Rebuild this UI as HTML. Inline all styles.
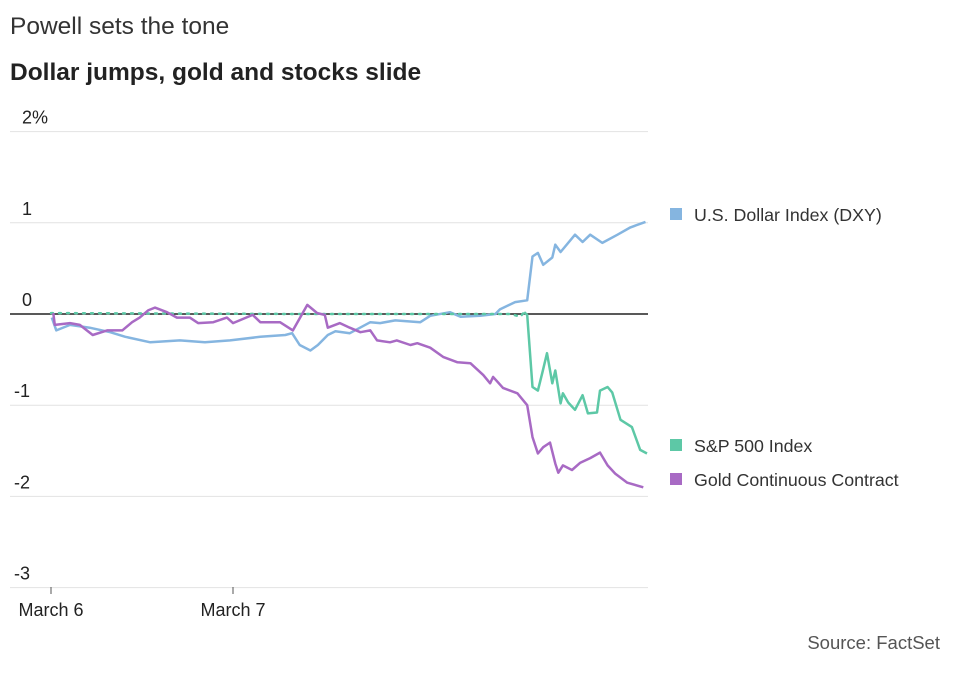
<!DOCTYPE html>
<html><head><meta charset="utf-8"><style>
body{margin:0;background:#fff;font-family:"Liberation Sans",sans-serif;}
svg{display:block}
</style></head><body>
<svg width="955" height="676">
<text x="10" y="34" font-size="24.5" fill="#333">Powell sets the tone</text>
<text x="10" y="80" font-size="24.5" font-weight="bold" fill="#222">Dollar jumps, gold and stocks slide</text>
<g id="grid"></g>
<g id="series"></g>
<g id="legend"></g>
<text x="940" y="649" font-size="18.5" fill="#555" text-anchor="end">Source: FactSet</text>
</svg>
<script>
const yTicks=[2,1,0,-1,-2,-3];
const yTickLabels=["2%","1","0","-1","-2","-3"];
const xTicks=[0,24];
const xTickLabels=["March 6","March 7"];
const dxyT=[0.1,0.7,2.5,5.1,7.8,9.8,13.1,17.0,20.3,23.6,27.6,30.9,31.8,32.8,34.2,35.2,36.5,37.5,39.4,42.1,43.4,45.4,48.7,50.0,52.6,54.0,56.6,58.6,59.2,61.2,62.8,63.5,64.2,64.9,66.1,66.5,67.2,69.1,70.1,71.1,72.7,74.7,76.4,78.4];
const dxyV=[-0.04,-0.18,-0.12,-0.15,-0.20,-0.25,-0.31,-0.29,-0.31,-0.29,-0.25,-0.23,-0.21,-0.34,-0.40,-0.34,-0.23,-0.19,-0.21,-0.09,-0.10,-0.07,-0.09,-0.02,0.02,-0.03,-0.02,0,0.05,0.13,0.15,0.63,0.67,0.54,0.62,0.76,0.68,0.87,0.79,0.87,0.78,0.87,0.95,1.01];
const spxT=[0,32.8,60.6,61.9,62.4,62.8,63.5,64.2,64.8,65.4,66.1,66.5,67.2,67.5,68.2,69.1,70.1,70.8,72.0,72.4,73.4,74.0,75.1,76.6,77.7,78.6];
const spxV=[0.01,0,0,-0.03,0.02,-0.01,-0.80,-0.84,-0.64,-0.43,-0.76,-0.62,-0.98,-0.87,-0.97,-1.05,-0.89,-1.09,-1.08,-0.84,-0.80,-0.86,-1.16,-1.24,-1.49,-1.53];
const goldT=[0.3,0.5,2.5,3.8,5.5,7.4,9.4,10.7,11.7,12.8,13.7,15.3,16.6,18.3,19.4,21.4,23.2,24.0,26.6,27.6,30.2,31.9,33.8,35.1,36.1,36.5,38.1,39.4,40.8,42.1,43.0,44.7,45.6,47.4,48.3,50.0,51.7,53.6,55.3,57.0,57.9,58.3,59.6,61.5,62.8,63.5,64.2,64.9,65.8,66.5,66.9,67.5,68.7,69.8,71.1,72.4,73.4,74.4,76.0,78.1];
const goldV=[0.01,-0.12,-0.10,-0.12,-0.23,-0.18,-0.18,-0.09,-0.04,0.04,0.07,0.02,-0.04,-0.04,-0.10,-0.09,-0.04,-0.10,-0.01,-0.09,-0.09,-0.18,0.10,0.01,-0.01,-0.15,-0.10,-0.15,-0.20,-0.18,-0.29,-0.31,-0.29,-0.34,-0.32,-0.37,-0.47,-0.53,-0.54,-0.67,-0.76,-0.69,-0.81,-0.87,-1.00,-1.35,-1.53,-1.46,-1.41,-1.64,-1.74,-1.66,-1.71,-1.63,-1.58,-1.52,-1.66,-1.75,-1.85,-1.90];
const spxSolidFrom=62.4;
const NS="http://www.w3.org/2000/svg";
const X=t=>51+t*(182/24);
const Y=v=>314-v*91.2;
function mk(tag,attrs,parent){const e=document.createElementNS(NS,tag);for(const k in attrs)e.setAttribute(k,attrs[k]);parent.appendChild(e);return e;}
const grid=document.getElementById('grid');
yTicks.forEach((v,i)=>{
  const l=mk('line',{x1:10,x2:648,y1:Y(v),y2:Y(v),stroke:v===0?'#222':'#e2e2e2','stroke-width':v===0?1.5:1},grid);
  
  
  const t=mk('text',{x:v<0?14:22,y:Y(v)-8,'font-size':18,fill:'#222'},grid);
  t.textContent=yTickLabels[i];
  
  
});
xTicks.forEach((tv,i)=>{
  const l=mk('line',{x1:X(tv),x2:X(tv),y1:587,y2:594,stroke:'#555','stroke-width':1},grid);
  
  
  const t=mk('text',{x:X(tv),y:616,'font-size':18,fill:'#222','text-anchor':'middle'},grid);
  t.textContent=xTickLabels[i];
  
  
});
const ser=document.getElementById('series');
function line(T,V,color,name,dash){
  const d=T.map((t,i)=>(i?'L':'M')+X(t).toFixed(1)+','+Y(V[i]).toFixed(1)).join('');
  const a={d:d,fill:'none',stroke:color,'stroke-width':2.5,'stroke-linejoin':'round'};
  if(dash){a['stroke-dasharray']='2 6';a['stroke-linecap']='round';}
  const p=mk('path',a,ser);
  
  
}
line(dxyT,dxyV,'#85b5e0','dxy-line');
const sa=[],sb=[];
spxT.forEach((t,i)=>{if(t<=spxSolidFrom)sa.push(i);if(t>=spxSolidFrom)sb.push(i);});
line(sa.map(i=>spxT[i]),sa.map(i=>spxV[i]),'#5dc8a6','sp500-line-dotted',true);
line(sb.map(i=>spxT[i]),sb.map(i=>spxV[i]),'#5dc8a6','sp500-line');
line(goldT,goldV,'#a86ac4','gold-line');
const leg=document.getElementById('legend');
[['U.S. Dollar Index (DXY)','#85b5e0',215],['S&P 500 Index','#5dc8a6',446],['Gold Continuous Contract','#a86ac4',480]].forEach(([lab,c,y])=>{
  const r=mk('rect',{x:670,y:y-7,width:12,height:12,fill:c},leg);
  
  
  const t=mk('text',{x:694,y:y+6,'font-size':17.8,fill:'#333'},leg);
  t.textContent=lab;
  
  
});
</script>
</body></html>
